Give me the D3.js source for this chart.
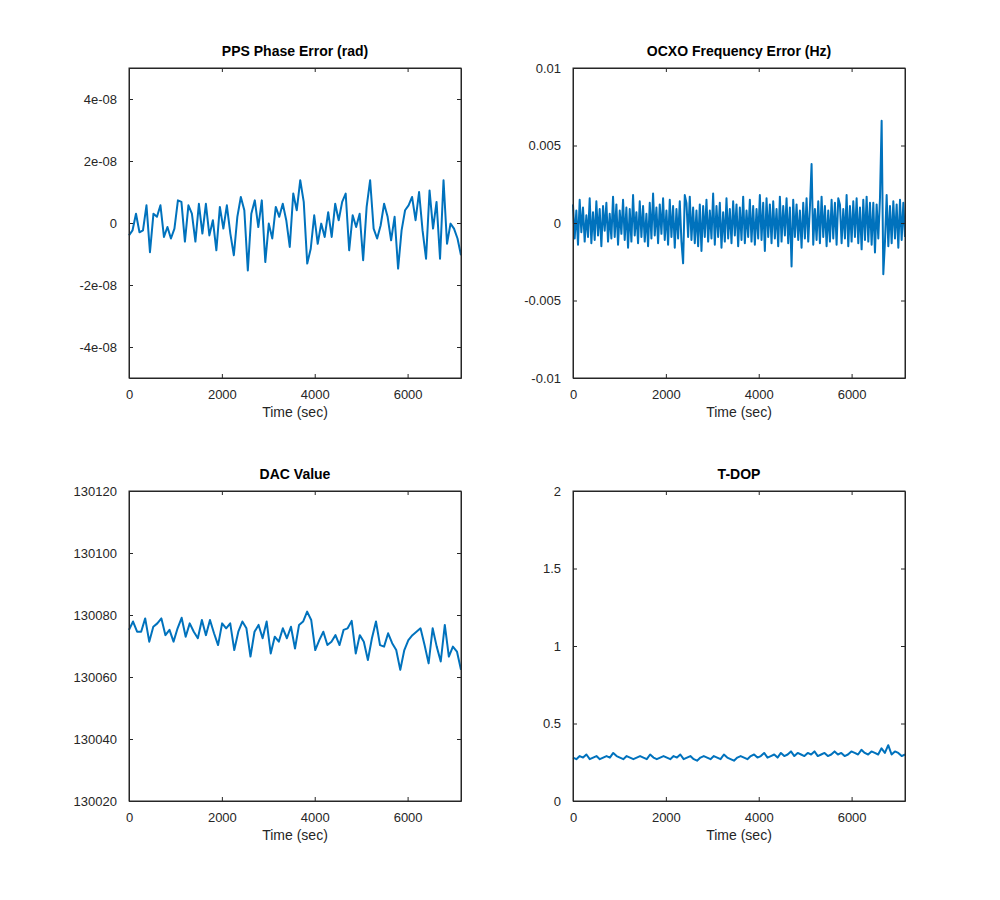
<!DOCTYPE html>
<html>
<head>
<meta charset="utf-8">
<script src="https://cdn.jsdelivr.net/npm/d3@7"></script>
<style>
  body { margin: 0; background: #fff; }
  text { font-family: "Liberation Sans", Arial, sans-serif; }
</style>
</head>
<body>
<div id="chart"></div>
<script>
// time span of the log (sec)
const tMax = 7150;

// PPS phase error, in 1e-9
const ppsErr = [-4,-2.4,3,-3,-2.4,5.7,-9.4,3,2,5.7,-4.5,-1.3,-5,-1.8,7.3,6.8,-6,5.7,3,-6,
  6.2,-3.4,6.2,-4,0.9,-8.8,5.2,-1.8,5.7,-3.4,-10.4,2,8.4,4.1,-15.3,3,7.3,-1.3,7.3,-12.6,
  -0.2,-5,5.2,2,6.2,0.9,-7.7,9.5,4.1,13.8,6.8,-13.1,-8.3,2.5,-6.7,-0.2,-4.5,3.5,-4.5,6.2,
  0.9,6.8,9.5,-8.8,2.5,-1.3,3,-12,5.2,13.8,-1.8,-5,-0.8,6.2,2,-5.6,2,-14.7,-2.4,4.1,
  5.7,8.4,0.9,10,-2.4,-11.5,10.5,-1.8,6.8,-11.5,13.8,-6.7,-0.2,-1.8,-5,-10.4];

// OCXO frequency error, in 1e-4 Hz
const ocxoErr = [12,-10,8,-14,15,-6,10,-12,5,-9,16,-13,7,-11,14,-8,9,-15,11,-5,
  13,-12,6,-10,17,-9,12,-14,8,-7,15,-11,10,-16,9,-12,18,-8,7,-13,
  14,-9,11,-12,6,-15,13,-10,19,-8,10,-13,12,-7,16,-11,8,-14,15,-9,
  11,-16,9,-10,14,-12,-26,18,13,-9,17,-11,10,-13,8,-15,12,-18,11,-9,
  15,-12,8,-10,19,-14,11,-9,13,-16,7,-12,16,-10,9,-13,14,-8,12,-15,
  10,-11,17,-13,8,-9,15,-12,11,-14,9,-10,18,-11,13,-18,16,-9,12,-13,
  14,-10,9,-15,17,-12,11,-8,16,-13,10,-28,15,-9,12,-11,8,-16,13,-10,
  16,-12,10,38,-14,9,-11,14,-13,17,-9,11,-15,8,-12,15,-10,13,-14,16,
  12,-13,9,-10,18,-15,11,-12,14,-9,16,-13,10,-17,15,-11,17,-12,13,-14,
  13,-19,12,-10,16,66,-33,-12,18,-15,11,-13,14,-10,12,-16,15,-11,13,-9];

// DAC value
const dacVal = [130075.2,130077.9,130074.6,130074.6,130078.9,130071.4,130076.2,130077.3,130078.9,130073.5,
  130075.2,130071.4,130075.7,130079.1,130073,130077.3,130074.6,130072.5,130078.4,130073.5,
  130078.4,130074.1,130070.3,130077.3,130075.7,130077.3,130068.7,130074.6,130077.9,130075.7,
  130066.6,130074.6,130076.8,130072.5,130077.9,130067.6,130073,130071.4,130075.7,130072.5,
  130076.2,130069.2,130076.8,130077.9,130081.1,130078.4,130068.7,130071.9,130074.6,130070.3,
  130071.4,130073.5,130070.3,130075.2,130075.7,130078.1,130067.6,130073.5,130071.4,130065.5,
  130072.5,130077.9,130070.3,130069.8,130074.1,130070.9,130068.7,130062.3,130068.7,130071.9,
  130073.5,130074.6,130075.7,130070.3,130064.4,130075.7,130069.8,130065,130076.8,130066.6,
  130069.8,130068.2,130062.3];

// T-DOP
const tdop = [0.28,0.27,0.29,0.28,0.30,0.27,0.28,0.29,0.27,0.28,0.29,0.28,0.31,0.29,0.28,0.27,0.29,0.28,0.27,0.28,
  0.29,0.28,0.27,0.30,0.28,0.27,0.28,0.29,0.28,0.27,0.29,0.28,0.30,0.27,0.28,0.29,0.27,0.26,0.28,0.29,
  0.28,0.27,0.29,0.28,0.27,0.30,0.28,0.27,0.26,0.28,0.29,0.28,0.27,0.29,0.30,0.28,0.29,0.31,0.28,0.29,
  0.30,0.28,0.31,0.29,0.30,0.32,0.29,0.31,0.30,0.29,0.31,0.30,0.32,0.29,0.30,0.31,0.29,0.30,0.32,0.30,
  0.31,0.29,0.30,0.32,0.31,0.30,0.33,0.31,0.30,0.32,0.31,0.30,0.34,0.31,0.36,0.30,0.32,0.31,0.29,0.30];

const xTicks = [0, 2000, 4000, 6000];

const panels = [
  { title: "PPS Phase Error (rad)", vals: ppsErr.map(v => v * 1e-9), dom: [-5e-8, 5e-8],
    ticks: [-4e-8, -2e-8, 0, 2e-8, 4e-8], fmt: d => d === 0 ? "0" : (d < 0 ? "-" : "") + Math.abs(d * 1e8).toFixed(0) + "e-08",
    left: 129, top: 68 },
  { title: "OCXO Frequency Error (Hz)", vals: ocxoErr.map(v => v * 1e-4), dom: [-0.01, 0.01],
    ticks: [-0.01, -0.005, 0, 0.005, 0.01], fmt: d => String(+d.toFixed(3)),
    left: 573, top: 68 },
  { title: "DAC Value", vals: dacVal, dom: [130020, 130120],
    ticks: [130020, 130040, 130060, 130080, 130100, 130120], fmt: d => String(d),
    left: 129, top: 491 },
  { title: "T-DOP", vals: tdop, dom: [0, 2],
    ticks: [0, 0.5, 1, 1.5, 2], fmt: d => String(d),
    left: 573, top: 491 }
];

const W = 332, H = 310;

const svg = d3.select("#chart").append("svg")
  .attr("width", 1000).attr("height", 900);

panels.forEach(p => {
  const g = svg.append("g").attr("transform", `translate(${p.left},${p.top})`);
  const x = d3.scaleLinear().domain([0, tMax]).range([0, W]);
  const y = d3.scaleLinear().domain(p.dom).range([H, 0]);
  const step = tMax / (p.vals.length - 1);

  g.append("path")
    .datum(p.vals)
    .attr("fill", "none")
    .attr("stroke", "#0072bd")
    .attr("stroke-width", 2)
    .attr("stroke-linejoin", "round")
    .attr("d", d3.line().x((d, i) => x(i * step)).y(d => y(d)));

  const ax = [
    g.append("g").attr("transform", `translate(0,${H})`).call(d3.axisBottom(x).tickValues(xTicks).tickFormat(d3.format("d")).tickSizeInner(-4).tickSizeOuter(0).tickPadding(12)),
    g.append("g").call(d3.axisTop(x).tickValues(xTicks).tickSizeInner(-4).tickSizeOuter(0).tickFormat("")),
    g.append("g").call(d3.axisLeft(y).tickValues(p.ticks).tickSizeInner(-4).tickSizeOuter(0).tickPadding(12).tickFormat(p.fmt)),
    g.append("g").attr("transform", `translate(${W},0)`).call(d3.axisRight(y).tickValues(p.ticks).tickSizeInner(-4).tickSizeOuter(0).tickFormat(""))
  ];
  ax.forEach(a => {
    a.select(".domain").attr("stroke", "#262626");
    a.selectAll(".tick line").attr("stroke", "#262626");
    a.selectAll("text").attr("font-size", 13).attr("fill", "#262626")
      .attr("font-family", "Liberation Sans, Arial, sans-serif");
  });
  g.append("rect").attr("width", W).attr("height", H)
    .attr("fill", "none").attr("stroke", "#262626").attr("stroke-width", 1);

  g.append("text").attr("x", W / 2).attr("y", -12).attr("text-anchor", "middle")
    .attr("font-size", 14).attr("font-weight", "bold").attr("fill", "#000").text(p.title);
  g.append("text").attr("x", W / 2).attr("y", H + 39).attr("text-anchor", "middle")
    .attr("font-size", 14).attr("fill", "#262626").text("Time (sec)");
});
</script>
</body>
</html>
